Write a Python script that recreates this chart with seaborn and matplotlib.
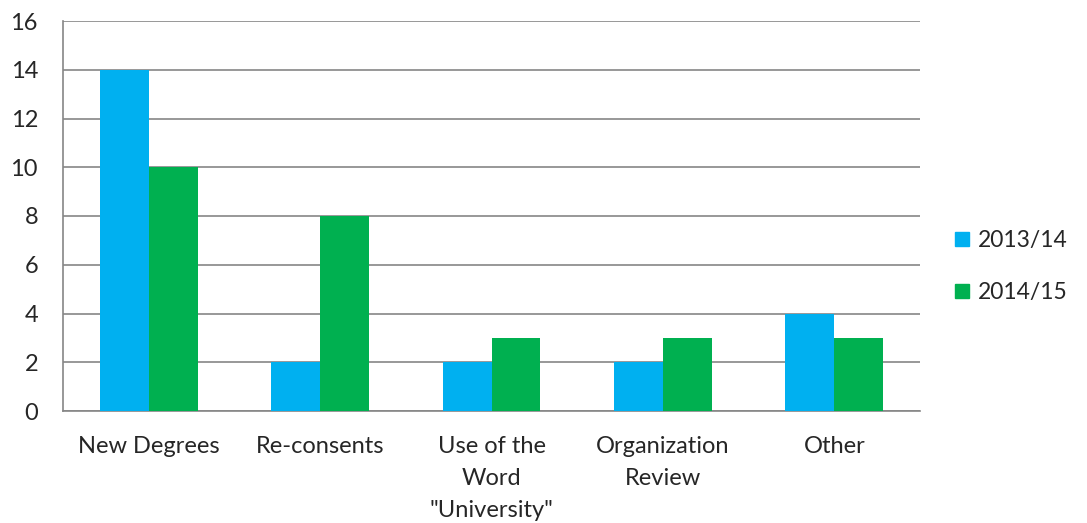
import matplotlib
matplotlib.use("Agg")
import matplotlib.pyplot as plt
import matplotlib.patches as mpatches
import pandas as pd
import seaborn as sns

categorias = ["New Degrees", "Re-consents", "Use of the\nWord\n\"University\"",
              "Organization\nReview", "Other"]
valores_1314 = [14, 2, 2, 2, 4]
valores_1415 = [10, 8, 3, 3, 3]
series = ["2013/14", "2014/15"]
colores = ["#00B0F0", "#00B050"]
yticks = [0, 2, 4, 6, 8, 10, 12, 14, 16]

sns.set_theme(style="white")
plt.rcParams["font.family"] = ["Lato", "DejaVu Sans"]

df = pd.DataFrame({
    "categoria": categorias * 2,
    "valor": valores_1314 + valores_1415,
    "serie": [series[0]] * 5 + [series[1]] * 5,
})

fig = plt.figure(figsize=(10.87, 5.23), dpi=100)
ax = fig.add_axes([63 / 1087, 1 - 411 / 523, (920 - 63) / 1087, (411 - 21) / 523])

sns.barplot(data=df, x="categoria", y="valor", hue="serie", order=categorias,
            hue_order=series, palette=colores, width=0.57, saturation=1,
            edgecolor="none", linewidth=0, ax=ax, legend=False, zorder=3)

ax.set_ylim(0, 16)
ax.set_yticks(yticks)
ax.set_xlim(-0.5, len(categorias) - 0.5)
ax.yaxis.grid(True, color="#868686", linewidth=1.2, zorder=0)
ax.set_axisbelow(True)
for lado in ["top", "right"]:
    ax.spines[lado].set_visible(False)
for lado in ["left", "bottom"]:
    ax.spines[lado].set_color("#868686")
    ax.spines[lado].set_linewidth(1.2)
ax.set_xlabel("")
ax.set_ylabel("")
ax.tick_params(axis="y", labelsize=17, pad=18, length=0)
ax.tick_params(axis="x", labelsize=17, pad=18, length=0)
for t in ax.get_xticklabels():
    t.set_linespacing(1.65)
    t.set_verticalalignment("top")

handles = [mpatches.Patch(color=c, label=s) for c, s in zip(colores, series)]
fig.legend(handles=handles, loc="center left", bbox_to_anchor=(0.86, 0.49),
           frameon=False, fontsize=16.5, handlelength=0.6, handleheight=0.6,
           handletextpad=0.4, labelspacing=1.35)

plt.savefig("out.png", dpi=100)
plt.close(fig)
